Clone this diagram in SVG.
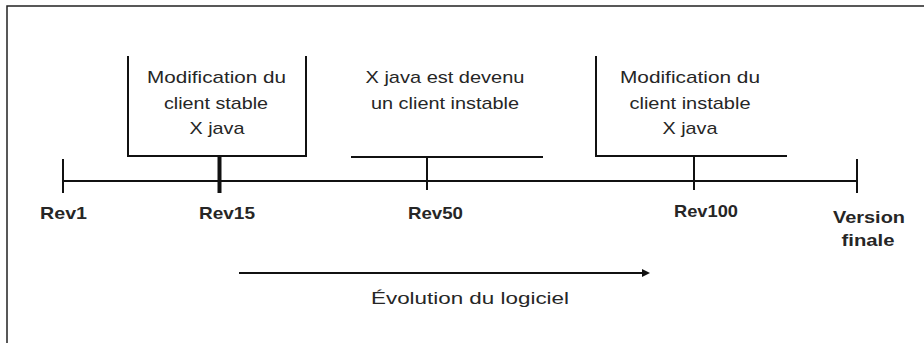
<svg xmlns="http://www.w3.org/2000/svg" width="924" height="343" viewBox="0 0 924 343">
<defs>
<style>
.t{font-family:"Liberation Sans",Arial,sans-serif;font-size:17px;fill:#262626;text-anchor:middle}
.b{font-weight:bold}
.ln{stroke:#111;stroke-width:2;fill:none}
</style>
<marker id="ah" markerWidth="8" markerHeight="8" refX="1" refY="4" orient="auto" markerUnits="userSpaceOnUse">
<path d="M0,0 L8,4 L0,8 Z" fill="#111"/>
</marker>
</defs>
<rect width="924" height="343" fill="#fff"/>
<path d="M7,343 V6 H924" stroke="#222" stroke-width="1.5" fill="none"/>
<g id="connectors">
<line class="ln" x1="63" y1="181" x2="857" y2="181"/>
<line class="ln" x1="63" y1="159" x2="63" y2="193"/>
<line x1="219.5" y1="156" x2="219.5" y2="193" stroke="#111" stroke-width="4"/>
<line class="ln" x1="427" y1="157" x2="427" y2="190"/>
<line class="ln" x1="694" y1="156" x2="694" y2="190"/>
<line class="ln" x1="857" y1="159" x2="857" y2="193"/>
<line class="ln" x1="239" y1="273" x2="643" y2="273" marker-end="url(#ah)"/>
</g>
<g id="event-rev15">
<path class="ln" d="M128,56 V156 H306 V56"/>
<text class="t" x="216.5" y="82.5" textLength="139" lengthAdjust="spacingAndGlyphs">Modification du</text>
<text class="t" x="216" y="108.5" textLength="104" lengthAdjust="spacingAndGlyphs">client stable</text>
<text class="t" x="217" y="133.5" textLength="55" lengthAdjust="spacingAndGlyphs">X java</text>
</g>
<g id="event-rev50">
<line class="ln" x1="351" y1="157" x2="543" y2="157"/>
<text class="t" x="445" y="82.5" textLength="159" lengthAdjust="spacingAndGlyphs">X java est devenu</text>
<text class="t" x="445" y="108.5" textLength="148" lengthAdjust="spacingAndGlyphs">un client instable</text>
</g>
<g id="event-rev100">
<path class="ln" d="M596,56 V156 H787"/>
<text class="t" x="690" y="82.5" textLength="140" lengthAdjust="spacingAndGlyphs">Modification du</text>
<text class="t" x="690" y="108.5" textLength="121" lengthAdjust="spacingAndGlyphs">client instable</text>
<text class="t" x="690" y="133.5" textLength="55" lengthAdjust="spacingAndGlyphs">X java</text>
</g>
<g id="label-rev1"><text class="t b" x="63.5" y="219" textLength="47" lengthAdjust="spacingAndGlyphs">Rev1</text></g>
<g id="label-rev15"><text class="t b" x="227" y="219" textLength="56" lengthAdjust="spacingAndGlyphs">Rev15</text></g>
<g id="label-rev50"><text class="t b" x="435.5" y="219" textLength="55" lengthAdjust="spacingAndGlyphs">Rev50</text></g>
<g id="label-rev100"><text class="t b" x="706" y="217" textLength="64" lengthAdjust="spacingAndGlyphs">Rev100</text></g>
<g id="label-final">
<text class="t b" x="869" y="223" textLength="72" lengthAdjust="spacingAndGlyphs">Version</text>
<text class="t b" x="868" y="246" textLength="53" lengthAdjust="spacingAndGlyphs">finale</text>
</g>
<g id="label-evolution"><text class="t" x="470" y="304" textLength="198" lengthAdjust="spacingAndGlyphs">Évolution du logiciel</text></g>
</svg>
